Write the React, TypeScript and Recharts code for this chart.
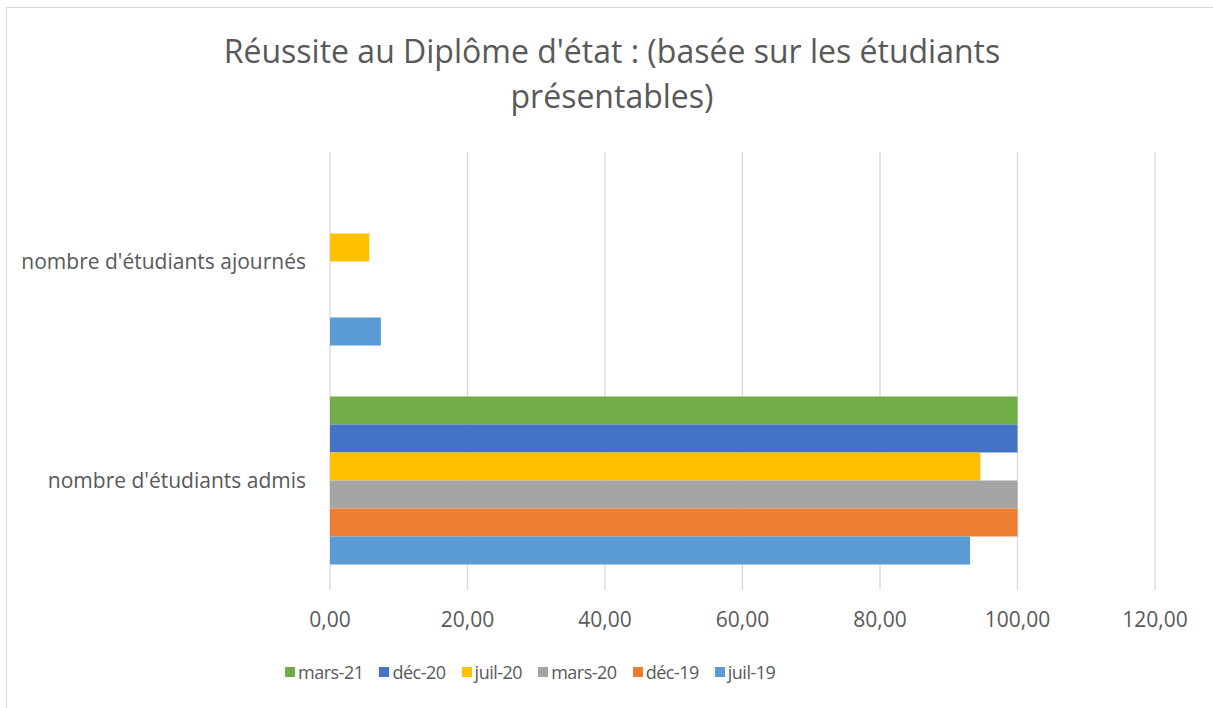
import * as React from "react";
import { BarChart, Bar, XAxis, YAxis, CartesianGrid } from "recharts";

const categories = ["nombre d'étudiants ajournés", "nombre d'étudiants admis"];

const seriesNames = ["mars-21", "déc-20", "juil-20", "mars-20", "déc-19", "juil-19"];
const seriesColors = ["#70AD47", "#4472C4", "#FFC000", "#A5A5A5", "#ED7D31", "#5B9BD5"];

// values per series, in category order (ajournés, admis)
const mars21 = [0, 100];
const dec20 = [0, 100];
const juil20 = [5.7, 94.6];
const mars20 = [0, 100];
const dec19 = [0, 100];
const juil19 = [7.4, 93.1];

const seriesValues = [mars21, dec20, juil20, mars20, dec19, juil19];

const xTicks = [0, 20, 40, 60, 80, 100, 120];

const data = categories.map((name, i) => {
    const row: Record<string, string | number> = { name };
    seriesNames.forEach((s, j) => {
        row[s] = seriesValues[j][i];
    });
    return row;
});

const font = "'Open Sans', sans-serif";
const textColor = "#595959";

export default function App() {
    return (
        <div style={{ position: "absolute", left: 0, top: 0, width: 1213, height: 708, background: "#fff", fontFamily: font, overflow: "hidden" }}>
            <div style={{ position: "absolute", left: 6, top: 7, width: 1300, height: 800, borderTop: "1px solid #d9d9d9", borderLeft: "1px solid #d9d9d9" }} />
            <div style={{ position: "absolute", left: 0, width: 1224, top: 28, textAlign: "center", fontSize: 32, lineHeight: "45px", color: textColor, whiteSpace: "nowrap" }}>
                Réussite au Diplôme d'état : (basée sur les étudiants
                <br />
                présentables)
            </div>
            <div style={{ position: "absolute", top: 0, left: 0 }}>
                <BarChart
                    width={1213}
                    height={708}
                    data={data}
                    layout="vertical"
                    margin={{ top: 152, right: 58, bottom: 78, left: 0 }}
                    barCategoryGap={25.5}
                    barGap={0}
                >
                    <CartesianGrid horizontal={false} stroke="#d9d9d9" strokeWidth={1.3} />
                    <XAxis
                        type="number"
                        domain={[0, 120]}
                        ticks={xTicks}
                        tickFormatter={(v: number) => v.toFixed(2).replace(".", ",")}
                        axisLine={false}
                        tickLine={false}
                        tickSize={0}
                        tickMargin={22}
                        height={40}
                        tick={{ fill: textColor, fontSize: 21, fontFamily: font }}
                    />
                    <YAxis
                        type="category"
                        dataKey="name"
                        width={330}
                        axisLine={false}
                        tickLine={false}
                        tickSize={0}
                        tickMargin={24}
                        tick={{ fill: textColor, fontSize: 21, fontFamily: font }}
                    />
                    {seriesNames.map((s, i) => (
                        <Bar key={s} dataKey={s} fill={seriesColors[i]} isAnimationActive={false} />
                    ))}
                </BarChart>
            </div>
            <div style={{ position: "absolute", left: 285, top: 660, display: "flex", alignItems: "center", fontSize: 18, letterSpacing: -0.5, color: textColor, whiteSpace: "nowrap" }}>
                {seriesNames.map((s, i) => (
                    <div key={s} style={{ display: "flex", alignItems: "center", marginRight: 16 }}>
                        <span style={{ display: "inline-block", width: 10, height: 10, background: seriesColors[i], marginRight: 3 }} />
                        <span>{s}</span>
                    </div>
                ))}
            </div>
        </div>
    );
}
